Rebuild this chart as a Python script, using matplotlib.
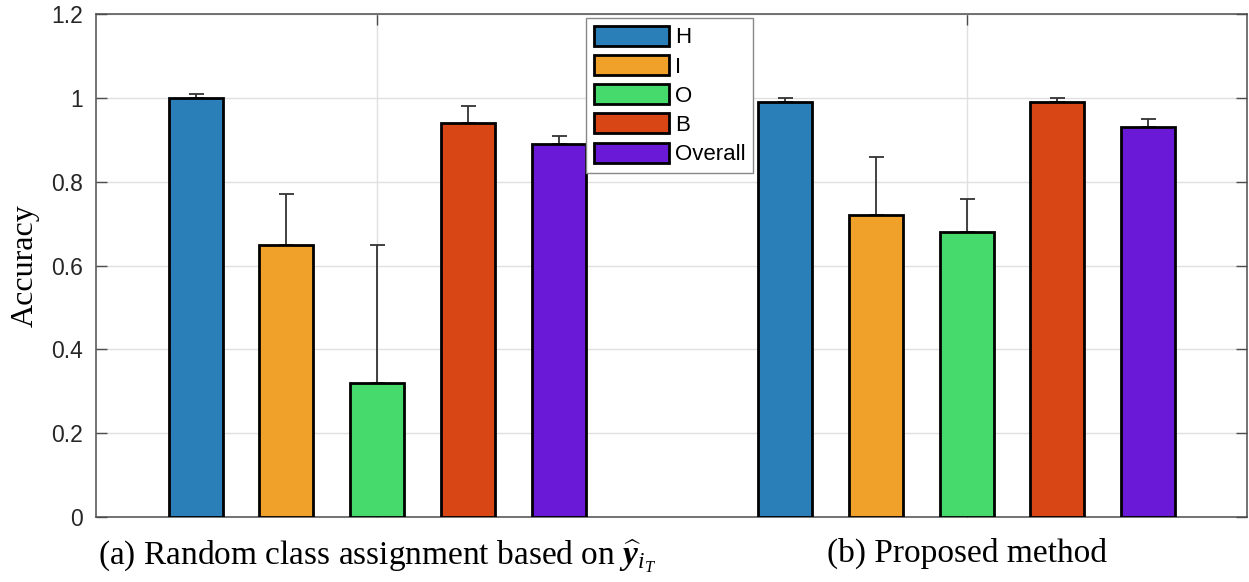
import numpy as np
import matplotlib
matplotlib.use("Agg")
import matplotlib.pyplot as plt

# ---- data ----
classes = ["H", "I", "O", "B", "Overall"]
groups = ["(a) Random class assignment based on $\\widehat{\\mathbfit{y}}_{i_T}$",
          "(b) Proposed method"]
acc_random = [1.00, 0.65, 0.32, 0.94, 0.89]
err_random = [0.01, 0.12, 0.33, 0.04, 0.02]
acc_proposed = [0.99, 0.72, 0.68, 0.99, 0.93]
err_proposed = [0.01, 0.14, 0.08, 0.01, 0.02]
yticks = [0, 0.2, 0.4, 0.6, 0.8, 1.0, 1.2]
ytick_labels = ["0", "0.2", "0.4", "0.6", "0.8", "1", "1.2"]
colors = ["#2A7FB8", "#EFA12A", "#46D96B", "#D94616", "#6A19D6"]

plt.rcParams["mathtext.fontset"] = "custom"
plt.rcParams["mathtext.rm"] = "Liberation Serif"
plt.rcParams["mathtext.it"] = "Liberation Serif:italic"
plt.rcParams["mathtext.bf"] = "Liberation Serif:bold"
plt.rcParams["mathtext.bfit"] = "Liberation Serif:italic:bold"

fig = plt.figure(figsize=(12.49, 5.82), dpi=100)
ax = fig.add_axes([0.0765, 0.1122, 0.998 - 0.0765, 0.9754 - 0.1122])

data = np.array([acc_random, acc_proposed])
errs = np.array([err_random, err_proposed])
centers = np.arange(1, len(groups) + 1)
pitch = 0.154
width = 0.0915
for i, cls in enumerate(classes):
    x = centers + (i - 2) * pitch
    ax.bar(x, data[:, i], width=width, color=colors[i], edgecolor="black",
           linewidth=2.0, label=cls, zorder=3)
    ax.errorbar(x, data[:, i], yerr=[np.zeros(len(groups)), errs[:, i]],
                fmt="none", ecolor="#333333", elinewidth=1.3, capsize=5.4,
                capthick=1.3, zorder=2)

ax.set_xlim(0.5224, 2.4747)
ax.set_ylim(0, 1.2)
ax.set_yticks(yticks)
ax.set_yticklabels(ytick_labels, family="Liberation Sans", fontsize=16.5, color="#262626")
ax.set_xticks(centers)
ax.set_xticklabels(groups, family="Liberation Serif", fontsize=24)
ax.tick_params(axis="both", direction="in", length=8, width=1, color="#4d4d4d",
               top=True, right=True)
ax.tick_params(axis="y", pad=9)
ax.tick_params(axis="x", pad=15)
ax.set_ylabel("Accuracy", family="Liberation Serif", fontsize=23, labelpad=8)
ax.grid(True, color="#e0e0e0", linewidth=1, zorder=0)
ax.set_axisbelow(True)
for s in ax.spines.values():
    s.set_color("#4d4d4d")
    s.set_linewidth(1.1)

leg = ax.legend(loc="upper left", bbox_to_anchor=(0.4262, 0.9926), borderaxespad=0,
                prop={"family": "Liberation Sans", "size": 16}, handlelength=3.4,
                handleheight=1.0, labelspacing=0.3, handletextpad=0.25,
                borderpad=0.35, fancybox=False, framealpha=1, edgecolor="#888888")
leg.get_frame().set_linewidth(1.0)
for h in leg.legend_handles:
    h.set_linewidth(2.0)

fig.savefig("out.png", dpi=100)
